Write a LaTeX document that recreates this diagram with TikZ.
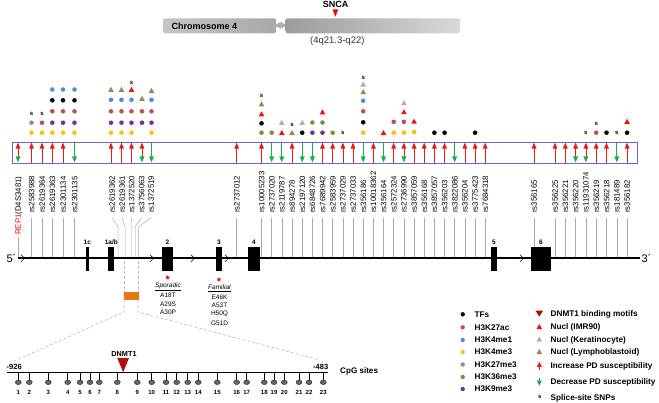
\documentclass[tikz,border=0pt]{standalone}
\usepackage{fontspec}
\setmainfont{Liberation Sans}
\usetikzlibrary{shapes.geometric}
\definecolor{cBlk}{RGB}{0,0,0}
\definecolor{cBrn}{RGB}{192,80,77}
\definecolor{cBlu}{RGB}{79,140,220}
\definecolor{cYel}{RGB}{255,192,0}
\definecolor{cGry}{RGB}{140,140,140}
\definecolor{cOlv}{RGB}{119,147,60}
\definecolor{cPur}{RGB}{112,48,160}
\definecolor{cDNMT}{RGB}{176,14,14}
\definecolor{cRtri}{RGB}{240,16,16}
\definecolor{cLtri}{RGB}{178,166,206}
\definecolor{cOtri}{RGB}{148,138,84}
\definecolor{cUp}{RGB}{236,24,24}
\definecolor{cDown}{RGB}{20,176,80}
\definecolor{cBox}{RGB}{104,104,204}
\definecolor{cOrg}{RGB}{230,120,20}
\newcounter{sc}
\newcommand{\arrU}[1]{%
  \draw[cUp,line width=0.8pt] (#1,163) -- (#1,147.5);
  \fill[cUp] (#1,142.6) -- (#1+2.5,148.6) -- (#1-2.5,148.6) -- cycle;}
\newcommand{\arrD}[1]{%
  \draw[cDown,line width=0.8pt] (#1,142) -- (#1,157.5);
  \fill[cDown] (#1,162.4) -- (#1+2.5,156.4) -- (#1-2.5,156.4) -- cycle;}
\newcommand{\arrB}[1]{%
  \draw[cUp,line width=0.8pt] (#1,157.5) -- (#1,147.5);
  \fill[cUp] (#1,142.6) -- (#1+2.5,148.6) -- (#1-2.5,148.6) -- cycle;
  \fill[cDown] (#1,162.4) -- (#1+2.5,156.4) -- (#1-2.5,156.4) -- cycle;}
\newcommand{\mc}[3]{\fill[#3] (#1,#2) circle[radius=2.3pt];}
\newcommand{\mt}[3]{\fill[#3] (#1,#2-2.7) -- (#1+2.8,#2+2.3) -- (#1-2.8,#2+2.3) -- cycle;}
\newcommand{\ms}[2]{\stepcounter{sc}\node[sglyph] (s\arabic{sc}) at (#1,#2) {s};}
\begin{document}
\begin{tikzpicture}[x=1pt,y=-1pt,
  lab/.style={font=\fontsize{7.8}{9}\selectfont, inner sep=0pt, text height=5.6pt, text depth=0pt, rotate=90, anchor=west},
  lead/.style={draw=gray!65, line width=0.5pt},
  sglyph/.style={font=\bfseries\fontsize{6}{6}\selectfont, inner sep=0pt},
  leg/.style={font=\bfseries\fontsize{8.2}{9}\selectfont, inner sep=0pt, text height=5.9pt, text depth=0pt, anchor=west},
  mut/.style={font=\fontsize{6.5}{7}\selectfont, inner sep=0pt},
  exlab/.style={font=\bfseries\fontsize{6.5}{7}\selectfont, inner sep=0pt},
  dsh/.style={draw=gray!55, line width=0.6pt, dash pattern=on 3pt off 2pt},
  cpgnum/.style={font=\bfseries\fontsize{6}{6}\selectfont, inner sep=0pt},
]
\useasboundingbox (0,0) rectangle (659,402);

% ---------- chromosome ----------
\shade[left color=gray!45, right color=gray!68, rounded corners=2pt] (163,18.3) rectangle (276,33.3);
\fill[gray!60] (276,23.8) rectangle (286,26.8);
\fill[gray!62] (280.7,25.3) ellipse [x radius=3.4pt, y radius=3.3pt];
\shade[left color=gray!78, right color=gray!30, rounded corners=2pt] (285.7,18.3) rectangle (460,33.3);
\node[font=\bfseries\fontsize{9}{10}\selectfont, inner sep=0pt, anchor=west] (chr) at (171.5,25.8) {Chromosome 4};
\node[font=\bfseries\fontsize{9}{10}\selectfont, inner sep=0pt] (snca) at (335.5,4.3) {SNCA};
\fill[red] (332.6,9.3) -- (338.2,9.3) -- (335.4,16.7) -- cycle;
\node[font=\fontsize{9.5}{10}\selectfont, inner sep=0pt, text=black!80] (band) at (337.3,40.7) {(4q21.3-q22)};

% ---------- arrows in box ----------
\arrB{18}
\foreach \x/\ty in {31.5/U,42/U,52.3/U,63/U,74.5/D,111/U,121.5/U,131.5/U,142/B,151.5/D,
  236.7/U,261.5/U,271.7/D,281.8/D,292.0/U,302.2/D,312.4/D,322.5/U,332.7/U,342.9/U,353.0/U,
  363.2/D,373.4/U,383.5/D,393.7/U,403.9/B,414.1/U,424.2/U,434.4/U,444.6/U,454.7/D,464.9/U,
  475.1/U,485.2/U,534/U,555/U,565.3/U,575.6/B,585.9/B,596.2/U,606.5/U,616.8/D,627.1/U}
  {\csname arr\ty\endcsname{\x}}
\draw[cBox, line width=0.9pt] (12,142) rectangle (637,163);

% ---------- marks ----------
\mc{31.5}{132.7}{cYel} \mc{31.5}{122.7}{cGry} \ms{31.5}{113.5}
\mc{42}{132.7}{cYel} \mc{42}{122.7}{cBrn} \ms{42}{113.5}
\foreach \x in {52.3,63,74.5}{\mc{\x}{132.7}{cYel} \mc{\x}{122.7}{cPur} \mc{\x}{111.3}{cBrn} \mc{\x}{100.3}{cBlk} \mc{\x}{89.5}{cBlu}}
\foreach \x in {111,121.5}{\mc{\x}{132.7}{cYel} \mc{\x}{122.7}{cPur} \mc{\x}{111.3}{cBrn} \mc{\x}{99.8}{cBlu} \mt{\x}{89.5}{cOtri}}
\mc{131.5}{132.7}{cYel} \mc{131.5}{122.7}{cPur} \mc{131.5}{111.3}{cBrn} \mc{131.5}{99.8}{cBlu} \mt{131.5}{89.5}{cRtri} \ms{131.5}{82.5}
\mc{142}{122.7}{cPur} \mc{142}{111.3}{cBrn} \mt{142}{98.5}{cOtri}
\mc{151.5}{132.7}{cYel} \mc{151.5}{122.7}{cPur} \mc{151.5}{111.3}{cBrn} \mc{151.5}{99.8}{cBlu} \mt{151.5}{90.5}{cOtri}

\mc{261.5}{132.7}{cOlv} \mc{261.5}{123.3}{cBlk} \mt{261.5}{114}{cRtri} \mt{261.5}{104}{cOtri} \ms{261.5}{96}
\mc{271.7}{132.7}{cOlv}
\mt{281.8}{132.7}{cRtri} \mt{281.8}{122.5}{cLtri}
\mt{292.0}{132.7}{cOtri} \ms{292.0}{124.5}
\mc{302.2}{132.7}{cBlk} \mt{302.2}{122.5}{cLtri}
\mc{312.4}{132.7}{cPur} \mc{312.4}{122.5}{cOlv}
\mc{322.5}{132.7}{cPur} \mc{322.5}{122.5}{cOlv} \mt{322.5}{112}{cRtri}
\mc{332.7}{132.7}{cOlv}
\ms{342.9}{132.7}
\mc{363.2}{132.7}{cYel} \mc{363.2}{122.3}{cBlk} \mc{363.2}{111.3}{cBrn} \mc{363.2}{100.7}{cBlu} \mt{363.2}{91.7}{cOtri} \mt{363.2}{84.3}{cLtri} \ms{363.2}{77.5}
\mt{383.5}{132.7}{cRtri}
\mc{393.7}{132.7}{cYel} \mc{393.7}{121.8}{cBrn}
\mc{403.9}{132.7}{cYel} \mc{403.9}{121.8}{cBrn} \mt{403.9}{111.8}{cRtri} \mt{403.9}{102.8}{cLtri}
\mc{414.1}{132}{cYel} \mt{414.1}{121.3}{cRtri}
\mc{434.4}{132.7}{cBlk} \mc{444.6}{132.7}{cBlk} \mc{475.1}{132.7}{cBlk}
\ms{585.9}{132.7}
\mc{596.2}{132.7}{cBrn} \ms{596.2}{124}
\mc{606.5}{132.7}{cBlk}
\ms{616.8}{132.7}
\mc{627.1}{132.7}{cBlk} \mt{627.1}{121.5}{cRtri}

% ---------- SNP labels ----------
\node[lab] (rep) at (18,235) {\textcolor{red}{REP1}(D4S3481)};
\draw[lead] ([yshift=-2pt]rep.west) -- (18,257.2);
\foreach \x/\t [count=\i] in {31.5/rs2583988,42/rs2619364,52.3/rs2619363,63/rs2301134,74.5/rs2301135}{
  \node[lab] (ga\i) at (\x,213) {\t};
  \draw[lead] ([yshift=-4.5pt]ga\i.west) -- (\x,257.2);}
\foreach \x/\g/\t [count=\i] in {112/118/rs2619362,122/125/rs2619361,131.5/131/rs1372520,141.5/135/rs3756063,151/138.5/rs1372519}{
  \node[lab] (gb\i) at (\x,213) {\t};
  \draw[lead] ([yshift=-4.5pt]gb\i.west) -- (\g,227) -- (\g,257.2);}
\foreach \x/\t [count=\i] in {236.7/rs2737012,261.5/rs10005233,271.7/rs2737020,281.8/rs2119787,292.0/rs894278,
  302.2/rs2197120,312.4/rs6848726,322.5/rs7689942,332.7/rs2583959,342.9/rs2737029,353.0/rs2737033,
  363.2/rs356186,373.4/rs10018362,383.5/rs356164,393.7/rs2572324,403.9/rs2736990,414.1/rs3857059,
  424.2/rs356168,434.4/rs3857057,444.6/rs356203,454.7/rs3822086,464.9/rs356204,475.1/rs3775423,
  485.2/rs7684318,534/rs356165,555/rs356225,565.3/rs356221,575.6/rs356220,585.9/rs11931074,
  596.2/rs356219,606.5/rs356218,616.8/rs181489,627.1/rs356182}{
  \node[lab] (gc\i) at (\x,213) {\t};
  \draw[lead] ([yshift=-4.5pt]gc\i.west) -- (\x,257.2);}

% ---------- gene ----------
\draw[line width=2.3pt] (18,258.3) -- (640,258.3);
\node[font=\fontsize{11}{11}\selectfont, inner sep=0pt] (five) at (11.5,258.3) {5´};
\node[font=\fontsize{11}{11}\selectfont, inner sep=0pt, anchor=west] (three) at (641.5,258.3) {3´};
\foreach \x in {23,152,193,227,522}{\draw[line width=0.5pt] (\x-2,254.8) -- (\x+1.6,258.3) -- (\x-2,261.8);}
\foreach \a/\b/\t/\n in {85.7/89/1c/e1,108.3/114.3/1a\slash b/e2,161.7/173.3/2/e3,216/221.7/3/e4,247.7/260/4/e5,490.7/497.3/5/e6,530.7/551/6/e7}{
  \fill (\a,247.3) rectangle (\b,271);
  \node[exlab] (\n) at ({(\a+\b)/2},242.7) {\t};}

% ---------- promoter zoom ----------
\draw[dsh] (124,261) -- (124,292);
\draw[dsh] (138,261) -- (138,292);
\fill[cOrg] (123.5,292) rectangle (138.5,300);
\coordinate (cl) at (12,362);
\coordinate (cr) at (320,360);
\draw[dsh] (124,300) -- (124,312) -- (cl);
\draw[dsh] (138,300) -- (138,312) -- (cr);

% ---------- mutations ----------
\node[star, star points=5, star point ratio=2.3, fill=red, inner sep=0pt, minimum size=5pt] (st1) at (167.5,277.5) {};
\node[star, star points=5, star point ratio=2.3, fill=red, inner sep=0pt, minimum size=5pt] (st2) at (219,279.5) {};
\node[mut] (sp) at (168,286.8) {\underline{\textit{Sporadic}}};
\node[mut] (m1) at (168,295.5) {A18T};
\node[mut] (m2) at (168,304) {A29S};
\node[mut] (m3) at (168,312.5) {A30P};
\node[mut] (fa) at (219.5,288.3) {\underline{\textit{Familial}}};
\node[mut] (m4) at (219.5,297) {E46K};
\node[mut] (m5) at (219.5,305.7) {A53T};
\node[mut] (m6) at (219.5,314.3) {H50Q};
\node[mut] (m7) at (219.5,323) {G51D};

% ---------- CpG ----------
\draw[line width=1pt] (7,372.7) -- (328,372.7);
\node[font=\bfseries\fontsize{7.5}{8}\selectfont, inner sep=0pt] (lft) at (14.2,366.7) {-926};
\node[font=\bfseries\fontsize{7.5}{8}\selectfont, inner sep=0pt] (rgt) at (320.7,366.7) {-483};
\node[font=\bfseries\fontsize{8.1}{9}\selectfont, inner sep=0pt, anchor=west] (cpg) at (340,371) {CpG sites};
\node[font=\bfseries\fontsize{7.3}{8}\selectfont, inner sep=0pt] (dn) at (124,354) {DNMT1};
\fill[cDNMT] (117.3,358) -- (129,358) -- (123.2,372.3) -- cycle;
\foreach \x [count=\i] in {18.3,29.3,48.3,67.7,80,90,99.3,117.3,137.3,151.7,166,176.7,187.7,198.3,217.3,236.7,246.7,264.3,274,284.3,299,309,323.3}{
  \draw[line width=0.6pt] (\x,372.7) -- (\x,380.5);
  \filldraw[fill=black!60, draw=black!85, line width=0.4pt] (\x,382.3) ellipse [x radius=3pt, y radius=2.3pt];
  \node[cpgnum] (n\i) at (\x,392.7) {\i};}

% ---------- legend ----------
\foreach \y/\c/\t [count=\i] in {314.3/cBlk/TFs,327.3/cBrn/H3K27ac,340/cBlu/H3K4me1,352/cYel/H3K4me3,364.5/cGry/H3K27me3,377/cOlv/H3K36me3,389/cPur/H3K9me3}{
  \fill[\c] (462.7,\y) circle[radius=2.2pt];
  \node[leg] (la\i) at (474.5,\y) {\t};}
\fill[cDNMT] (535.4,310.6) -- (543.2,310.6) -- (539.3,316.6) -- cycle;
\mt{539.3}{326.7}{cRtri}
\mt{539.3}{339.3}{cLtri}
\mt{539.3}{351.7}{cOtri}
\draw[cUp, line width=0.8pt] (539.3,370) -- (539.3,365);
\fill[cUp] (539.3,361.8) -- (541.8,366.8) -- (536.8,366.8) -- cycle;
\draw[cDown, line width=0.8pt] (539.3,377.5) -- (539.3,382.5);
\fill[cDown] (539.3,385.7) -- (541.8,380.7) -- (536.8,380.7) -- cycle;
\ms{539.8}{396.8}
\foreach \y/\t [count=\i] in {313.3/DNMT1 binding motifs,326.7/Nucl (IMR90),339.3/Nucl (Keratinocyte),351.7/Nucl (Lymphoblastoid),366/Increase PD susceptibility,381.7/Decrease PD susceptibility,397.3/Splice-site SNPs}{
  \node[leg] (lb\i) at (550.5,\y) {\t};}
\end{tikzpicture}
\end{document}
